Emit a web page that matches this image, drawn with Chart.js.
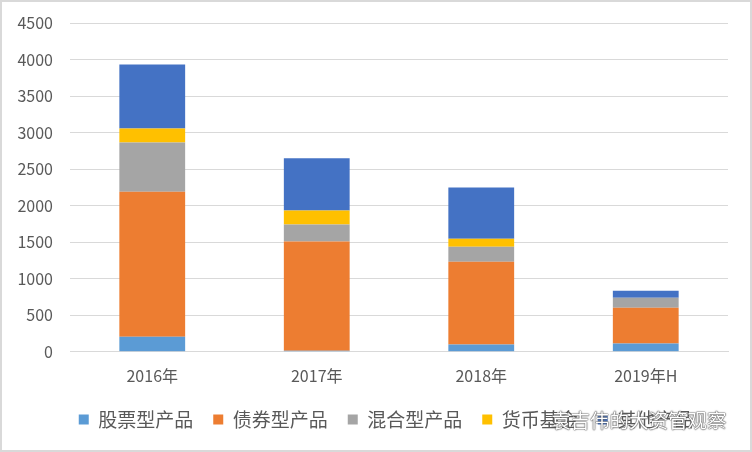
<!DOCTYPE html>
<html>
<head>
<meta charset="utf-8">
<script src="https://cdn.jsdelivr.net/npm/chart.js@4"></script>
<style>
  html, body { margin: 0; padding: 0; background: #fff; }
  #wrap { position: relative; width: 748px; height: 448px; border: 2px solid #d9d9d9; overflow: hidden; }
  #mark { position: absolute; left: 549px; top: 403px; font: 19.5px "Noto Sans CJK SC"; color: #fff;
          text-shadow: 0 0 1px #444, 0 0 1px #444, 0 0 2px #666; white-space: nowrap; }
</style>
</head>
<body>
<div id="wrap">
  <canvas id="c" width="748" height="448"></canvas>
  <div id="mark">袁吉伟的大资管观察</div>
</div>
<script>
// values
var categories = ['2016年', '2017年', '2018年', '2019年H'];
var stock = [205, 15, 100, 115];
var bond = [1987, 1495, 1133, 488];
var mixed = [672, 233, 206, 137];
var money = [191, 192, 109, 0];
var other = [878, 713, 699, 96];
var seriesNames = ['股票型产品', '债券型产品', '混合型产品', '货币基金', '其他产品'];
var yMax = 4500, yStep = 500;

var colors = ['#5B9BD5', '#ED7D31', '#A5A5A5', '#FFC000', '#4472C4'];
var font = '"Noto Sans CJK SC", "Noto Sans", sans-serif';

var datasets = [stock, bond, mixed, money, other].map(function (d, i) {
  return {
    label: seriesNames[i],
    data: d,
    backgroundColor: colors[i],
    borderWidth: 0,
    barPercentage: 0.4,
    categoryPercentage: 1
  };
});

new Chart(document.getElementById('c'), {
  type: 'bar',
  data: { labels: categories, datasets: datasets },
  options: {
    responsive: false,
    animation: false,
    // right padding is negative so the legend centres where the reference's does
    layout: { padding: { left: 12, right: -8, top: 21, bottom: 11 } },
    plugins: {
      tooltip: { enabled: false },
      legend: {
        position: 'bottom',
        labels: {
          color: '#595959',
          font: { family: font, size: 19 },
          boxWidth: 10,
          boxHeight: 10,
          padding: 20
        }
      }
    },
    scales: {
      x: {
        stacked: true,
        afterFit: function (s) { s.height -= 3; },
        grid: { display: false },
        border: { color: '#d9d9d9' },
        ticks: { color: '#595959', font: { family: font, size: 16 }, padding: 7 }
      },
      y: {
        stacked: true,
        min: 0,
        max: yMax,
        afterFit: function (s) { s.width = 56; },
        grid: { color: '#d9d9d9', drawTicks: true, tickLength: 14, tickColor: 'rgba(0,0,0,0)' },
        border: { display: false },
        ticks: {
          stepSize: yStep, color: '#595959', font: { family: font, size: 16, lineHeight: 1 }, padding: 3,
          callback: function (v) { return String(v); }
        }
      },
      // empty spacer on the right so the plot ends where the reference does
      yr: {
        position: 'right',
        afterFit: function (s) { s.width = 30; },
        grid: { display: false },
        border: { display: false },
        ticks: { display: false }
      }
    }
  }
});
</script>
</body>
</html>
